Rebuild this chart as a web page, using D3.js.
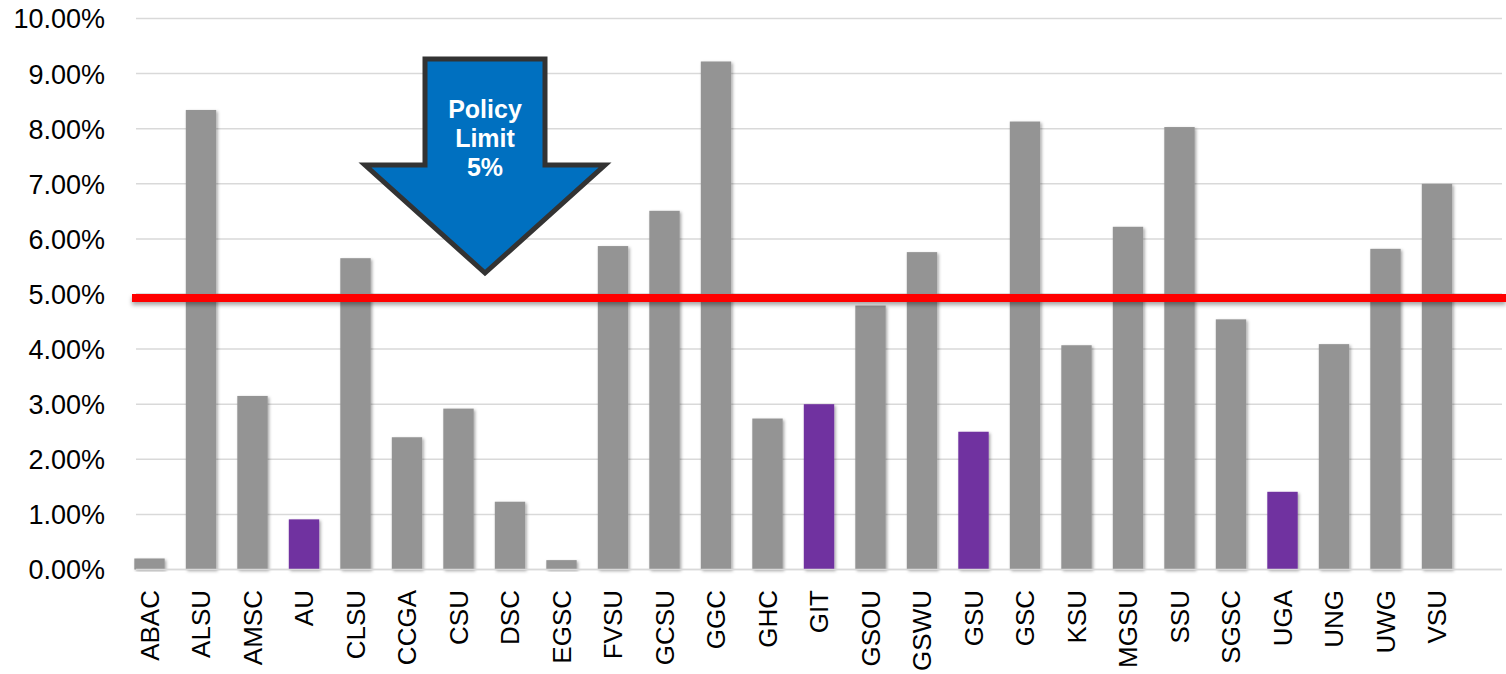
<!DOCTYPE html>
<html>
<head>
<meta charset="utf-8">
<script src="https://cdn.jsdelivr.net/npm/d3@7"></script>
<style>
  html, body { margin: 0; padding: 0; background: #fff; }
  svg { display: block; }
</style>
</head>
<body>
<svg id="chart" width="1506" height="674"></svg>
<script>
// ---- data ----
const categories = ["ABAC","ALSU","AMSC","AU","CLSU","CCGA","CSU","DSC","EGSC","FVSU","GCSU","GGC","GHC","GIT","GSOU","GSWU","GSU","GSC","KSU","MGSU","SSU","SGSC","UGA","UNG","UWG","VSU"];
const values = [0.20, 8.34, 3.15, 0.91, 5.65, 2.40, 2.92, 1.23, 0.17, 5.87, 6.51, 9.22, 2.74, 3.00, 4.79, 5.76, 2.50, 8.13, 4.07, 6.22, 8.03, 4.54, 1.41, 4.09, 5.82, 7.00];
const highlighted = ["AU","GIT","GSU","UGA"];
const yTicks = [0,1,2,3,4,5,6,7,8,9,10];
const policyLimit = 5;
const arrowText = ["Policy","Limit","5%"];

// ---- layout ----
const svg = d3.select("#chart");
const W = 1506, H = 674;
const plot = { left: 136, right: 1502, top: 18.5, bottom: 569.5 };

const y = d3.scaleLinear().domain([0, 10]).range([plot.bottom, plot.top]);
const x = d3.scaleBand().domain(categories).range([123.75, 123.75 + 51.5 * categories.length]).paddingInner(0.41).paddingOuter(0.205);

const defs = svg.append("defs");
const f = defs.append("filter").attr("id","shadow").attr("x","-30%").attr("y","-10%").attr("width","160%").attr("height","130%");
f.append("feDropShadow").attr("dx",1.5).attr("dy",1.5).attr("stdDeviation",1.6).attr("flood-color","#000").attr("flood-opacity",0.35);
const f2 = defs.append("filter").attr("id","lshadow").attr("filterUnits","userSpaceOnUse")
  .attr("x",100).attr("y",270).attr("width",1420).attr("height",60);
f2.append("feDropShadow").attr("dx",0).attr("dy",3).attr("stdDeviation",2).attr("flood-color","#000").attr("flood-opacity",0.35);

// gridlines
svg.append("g").selectAll("line").data(yTicks).join("line")
  .attr("x1", plot.left).attr("x2", plot.right)
  .attr("y1", d => y(d)).attr("y2", d => y(d))
  .attr("stroke", "#d9d9d9").attr("stroke-width", 1.5);

// y axis labels
const yAxis = d3.axisLeft(y).tickValues(yTicks).tickFormat(d => d.toFixed(2) + "%").tickSize(0).tickPadding(0);
const yg = svg.append("g").attr("transform", "translate(105,0)").call(yAxis);
yg.select(".domain").remove();
yg.selectAll("text").attr("font-family", "'Liberation Sans', Arial, sans-serif").attr("font-size", 27).attr("fill", "#000").attr("dy", "0.35em");

// bars
svg.append("g").selectAll("rect").data(categories).join("rect")
  .attr("x", d => x(d))
  .attr("width", x.bandwidth())
  .attr("y", (d, i) => y(values[i]))
  .attr("height", (d, i) => y(0) - y(values[i]))
  .attr("fill", d => highlighted.includes(d) ? "#7030a0" : "#949494")
  .attr("filter", "url(#shadow)");

// baseline
svg.append("line").attr("x1", plot.left).attr("x2", plot.right).attr("y1", y(0)).attr("y2", y(0))
  .attr("stroke", "#d9d9d9").attr("stroke-width", 1.5);

// x axis labels
svg.append("g").selectAll("text").data(categories).join("text")
  .attr("transform", d => `translate(${x(d) + x.bandwidth() / 2},590) rotate(-90)`)
  .attr("text-anchor", "end")
  .attr("dy", "0.36em")
  .attr("font-family", "'Liberation Sans', Arial, sans-serif")
  .attr("font-size", 26)
  .attr("fill", "#000")
  .text(d => d);

// policy limit line
svg.append("rect")
  .attr("x", 132).attr("width", W - 132)
  .attr("y", y(policyLimit)).attr("height", 8)
  .attr("fill", "#ff0000")
  .attr("filter", "url(#lshadow)");

// arrow annotation
const ax = 485;
const arrowPts = [[ax-60,59],[ax+60,59],[ax+60,165],[ax+120,165],[ax,273],[ax-120,165],[ax-60,165]];
svg.append("path")
  .attr("d", d3.line()(arrowPts) + "Z")
  .attr("fill", "#0070c0").attr("stroke", "#333333").attr("stroke-width", 5)
  .attr("stroke-linejoin", "miter");
svg.append("g").selectAll("text").data(arrowText).join("text")
  .attr("x", ax).attr("y", (d, i) => 118 + i * 29)
  .attr("text-anchor", "middle")
  .attr("font-family", "'Liberation Sans', Arial, sans-serif")
  .attr("font-weight", "bold").attr("font-size", 25)
  .attr("fill", "#fff")
  .text(d => d);
</script>
</body>
</html>
